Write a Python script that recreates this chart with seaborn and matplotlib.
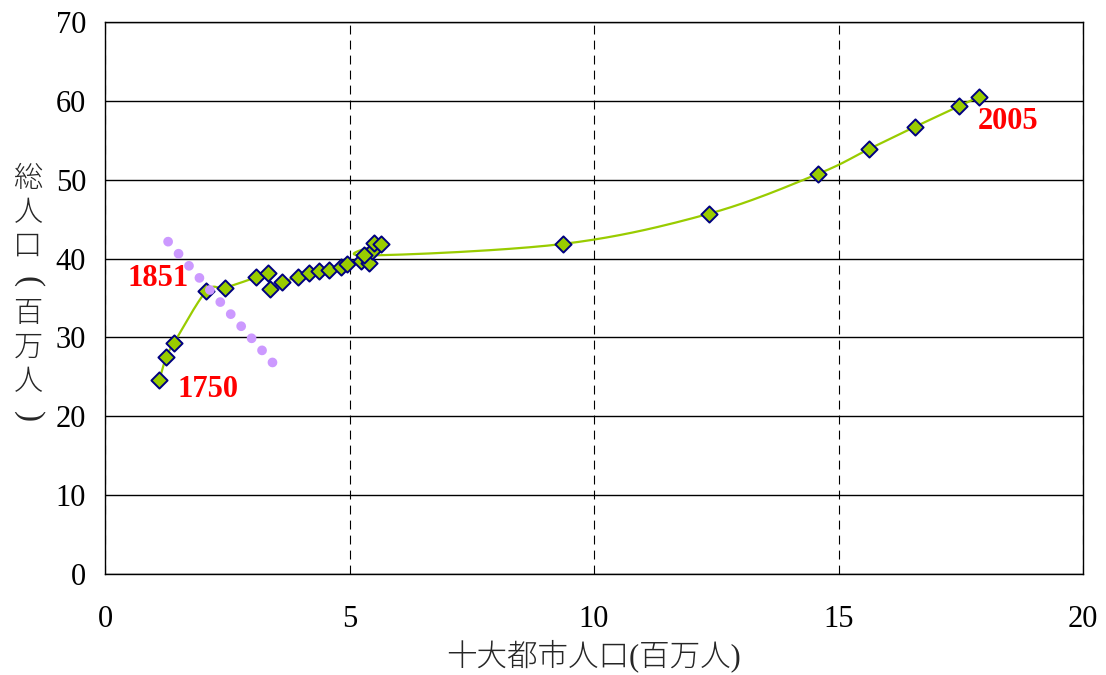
import numpy as np
import pandas as pd
import matplotlib
matplotlib.use("Agg")
import matplotlib.pyplot as plt
import seaborn as sns

# ---- data ----
city_pop = [1.11, 1.25, 1.41, 2.07, 2.45, 3.08, 3.33, 3.38, 3.62, 3.94, 4.17, 4.37,
            4.59, 4.82, 4.95, 5.23, 5.39, 5.47, 5.51, 5.64, 5.30, 9.37, 12.36,
            14.59, 15.62, 16.56, 17.46, 17.88]
total_pop = [24.56, 27.47, 29.30, 35.86, 36.30, 37.60, 38.20, 36.20, 37.05, 37.60,
             38.20, 38.40, 38.60, 38.90, 39.30, 39.70, 39.40, 41.00, 42.00, 41.90,
             40.40, 41.86, 45.70, 50.76, 53.88, 56.70, 59.30, 60.55]
trend_x = [1.29, 3.43]
trend_y = [42.15, 26.79]
year_labels = ["1851", "1750", "2005"]
year_label_pos = [(1.08, 37.5), (2.11, 23.4), (18.46, 57.4)]
x_ticks = [0, 5, 10, 15, 20]
y_ticks = [0, 10, 20, 30, 40, 50, 60, 70]
x_label = "十大都市人口(百万人)"
y_label_chars = ["総", "人", "口", "(", "百", "万", "人", ")"]

sns.set_style("white")
plt.rcParams["font.family"] = ["Liberation Serif", "Noto Sans CJK JP"]

W, H = 1106, 675
fig = plt.figure(figsize=(W / 100, H / 100), dpi=100)
ax_l, ax_r, ax_b, ax_t = 105 / W, 1083 / W, (H - 574) / H, (H - 22) / H
ax = fig.add_axes([ax_l, ax_b, ax_r - ax_l, ax_t - ax_b])

xlim, ylim = (0, 20), (0, 70)
# display scale (px per unit) for smoothing in screen space
sx = (ax_r - ax_l) * W / (xlim[1] - xlim[0])
sy = (ax_t - ax_b) * H / (ylim[1] - ylim[0])


def smooth(xs, ys, n=24):
    P = np.column_stack([np.asarray(xs) * sx, np.asarray(ys) * sy])
    E = np.vstack([P[0], P, P[-1]])
    out = []
    t = np.linspace(0, 1, n)[:, None]
    for i in range(len(P) - 1):
        p0, p1, p2, p3 = E[i], E[i + 1], E[i + 2], E[i + 3]
        c1 = p1 + (p2 - p0) / 6
        c2 = p2 - (p3 - p1) / 6
        seg = (1 - t) ** 3 * p1 + 3 * (1 - t) ** 2 * t * c1 + 3 * (1 - t) * t ** 2 * c2 + t ** 3 * p2
        out.append(seg if i == 0 else seg[1:])
    C = np.vstack(out)
    return C[:, 0] / sx, C[:, 1] / sy


cx, cy = smooth(city_pop, total_pop)
curve = pd.DataFrame({"x": cx, "y": cy})
pts = pd.DataFrame({"x": city_pop, "y": total_pop})
trend = pd.DataFrame({"x": trend_x, "y": trend_y})

ax.set_xlim(*xlim)
ax.set_ylim(*ylim)

# grid
ax.set_axisbelow(True)
ax.yaxis.grid(True, color="black", linewidth=1.0, linestyle="-")
ax.xaxis.grid(True, color="black", linewidth=0.8, linestyle=(0, (8, 5.5)))

sns.lineplot(data=curve, x="x", y="y", sort=False, estimator=None,
             color="#99CC00", linewidth=1.6, ax=ax, zorder=2)
sns.scatterplot(data=pts, x="x", y="y", marker="D", s=68, color="#99CC00",
                edgecolor="#000080", linewidth=1.4, ax=ax, zorder=3)
sns.lineplot(data=trend, x="x", y="y", sort=False, estimator=None,
             color="#CC99FF", linewidth=7, linestyle=(0, (0.01, 1.632)),
             dash_capstyle="round", ax=ax, zorder=4)

for txt, (tx, ty) in zip(year_labels, year_label_pos):
    ax.text(tx, ty, txt, color="#FF0000", fontsize=22, fontweight="bold",
            ha="center", va="center", zorder=5, family="Liberation Serif")

ax.set_xticks(x_ticks)
ax.set_yticks(y_ticks)
ax.tick_params(axis="both", direction="in", length=5, width=1, color="black",
               labelsize=22, labelcolor="black")
ax.tick_params(axis="y", pad=13.5)
ax.tick_params(axis="x", pad=22)

for s in ax.spines.values():
    s.set_color("black")
    s.set_linewidth(1.0)
    s.set_visible(True)

ax.set_xlabel(x_label, fontsize=22, labelpad=4, fontweight="light")
ax.set_ylabel("")

# vertical (stacked) y-axis label
y0, step = 180, 33.8
for i, ch in enumerate(y_label_chars):
    yc = 1 - (y0 + i * step) / H
    if ch in "()":
        fig.text(28 / W, yc, ch, fontsize=24, rotation=-90, ha="center",
                 va="center", rotation_mode="anchor", family="Liberation Serif")
    else:
        fig.text(28 / W, yc, ch, fontsize=21, ha="center", va="center",
                 fontweight="light")

fig.savefig("out.png", dpi=100)
